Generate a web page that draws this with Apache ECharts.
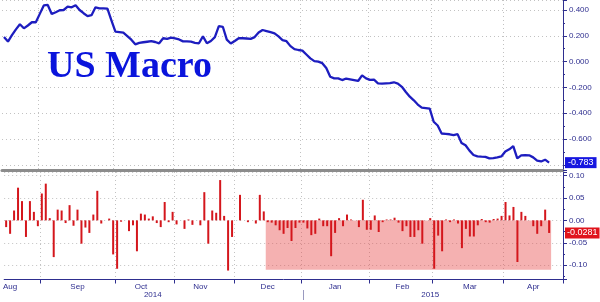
<!DOCTYPE html>
<html><head><meta charset="utf-8">
<script src="https://cdn.jsdelivr.net/npm/echarts@6/dist/echarts.min.js"></script>
<style>html,body{margin:0;padding:0;background:#fff}#c{width:600px;height:302px}</style>
</head><body><div id="c"></div>
<script>
// US Macro surprise index (top panel), one value per slot
const macroIndex = [
 0.19,0.155,0.205,0.25,0.29,0.258,0.28,0.305,0.305,0.37,
 0.435,0.439,0.369,0.383,0.398,0.40,0.426,0.421,0.437,0.40,
 0.375,0.353,0.36,0.421,0.413,0.412,0.41,0.32,0.232,0.228,
 0.224,0.198,0.17,0.134,0.145,0.15,0.154,0.158,0.152,0.142,
 0.181,0.176,0.186,0.18,0.172,0.157,0.157,0.155,0.146,0.142,
 0.196,0.142,0.16,0.19,0.275,0.27,0.17,0.14,0.16,0.181,
 0.181,0.179,0.176,0.19,0.225,0.245,0.237,0.228,0.219,0.195,
 0.167,0.158,0.12,0.097,0.09,0.085,0.055,0.025,0.004,0.0,
 -0.012,-0.05,-0.117,-0.13,-0.13,-0.143,-0.131,-0.137,-0.143,-0.15,
 -0.106,-0.13,-0.142,-0.14,-0.168,-0.17,-0.168,-0.166,-0.16,-0.17,
 -0.195,-0.235,-0.272,-0.30,-0.333,-0.357,-0.36,-0.365,-0.466,-0.495,
 -0.557,-0.56,-0.563,-0.569,-0.562,-0.63,-0.648,-0.69,-0.724,-0.735,
 -0.737,-0.738,-0.75,-0.748,-0.742,-0.735,-0.697,-0.68,-0.655,-0.75,
 -0.727,-0.724,-0.726,-0.742,-0.767,-0.774,-0.76,-0.783
];
// daily change (bottom panel)
const macroChange = [
 -0.015,-0.030,0.022,0.073,0.043,-0.037,0.043,0.019,-0.013,0.060,
 0.082,0.005,-0.082,0.024,0.022,-0.006,0.034,-0.012,0.024,-0.052,
 -0.016,-0.028,0.013,0.066,-0.007,0.000,0.004,-0.076,-0.108,-0.003,
 0.000,-0.024,-0.011,-0.069,0.015,0.013,0.004,0.009,-0.006,-0.015,
 0.041,-0.004,0.019,-0.009,0.000,-0.019,0.002,-0.010,0.000,-0.011,
 0.063,-0.052,0.022,0.017,0.090,0.010,-0.112,-0.037,0.000,0.057,
 0.000,-0.004,0.000,-0.007,0.057,0.020,-0.004,-0.005,-0.011,-0.022,
 -0.030,-0.017,-0.046,-0.017,-0.005,-0.005,-0.018,-0.033,-0.030,0.004,
 -0.013,-0.013,-0.080,-0.028,0.005,-0.013,0.013,0.002,0.000,-0.015,
 0.046,-0.021,-0.021,0.011,-0.026,-0.004,0.002,0.002,0.006,-0.005,
 -0.024,-0.013,-0.037,-0.037,-0.022,-0.052,0.000,0.005,-0.108,-0.034,
 -0.069,0.002,-0.004,0.002,-0.007,-0.062,-0.019,-0.036,-0.036,-0.011,
 0.003,-0.004,-0.005,0.003,0.004,0.010,0.041,0.011,0.030,-0.093,
 0.019,0.010,0.000,-0.013,-0.030,-0.013,0.024,-0.0281
];
const slotCount = 141;
const monthNames = ['Aug','Sep','Oct','Nov','Dec','Jan','Feb','Mar','Apr'];
const monthLabelIdx = [1,18,34,49,66,83,100,117,133];
const monthStartIdx = [9,28,43,58,75,92,108,126];
const yearNames = ['2014','2015'];
const yearLabelIdx = [37,107];
const yearStartIdx = [75];
const topRange = [-0.84, 0.4775];
const bottomRange = [-0.132, 0.108];
const shadeFrom = 66, shadeTo = 137, shadeLow = -0.11;
const title = 'US Macro';

const slots = [];
for (let i = 0; i < slotCount; i++) slots.push('s' + i);
const navy = '#2e2e8f';
const gridLine = {show: true, lineStyle: {color: '#c2c2c2', type: [1, 3], width: 1}};
const vSplit = {show: true, interval: (i) => monthStartIdx.includes(i), lineStyle: {color: '#c2c2c2', type: [1, 3], width: 1}};
const lblFont = {color: navy, fontSize: 8, fontFamily: 'Liberation Sans'};
const lastLine = macroIndex[macroIndex.length - 1];
const lastBar = macroChange[macroChange.length - 1];

const chart = echarts.init(document.getElementById('c'));
chart.setOption({
  animation: false,
  backgroundColor: '#fff',
  title: {text: title, left: 47, top: 48, padding: 0,
    textStyle: {fontFamily: 'Liberation Serif', fontWeight: 'bold', fontSize: 38, color: '#0a14dc'}},
  grid: [
    {left: 2, right: 37, top: 0, height: 170},
    {left: 2, right: 37, top: 172, height: 107.5}
  ],
  xAxis: [
    {type: 'category', gridIndex: 0, data: slots, boundaryGap: true,
     axisLine: {show: true, onZero: false, lineStyle: {color: '#8c8c8c', width: 3}},
     axisTick: {show: false}, axisLabel: {show: false}, splitLine: vSplit},
    // bar axis: every-slot (hidden) ticks so the shaded band snaps to slot edges
    {type: 'category', gridIndex: 1, data: slots, boundaryGap: true,
     axisLine: {show: true, onZero: false, lineStyle: {color: navy, width: 1}},
     axisTick: {show: false, interval: 0},
     axisLabel: Object.assign({show: true, interval: (i) => monthLabelIdx.includes(i), margin: 3,
       formatter: (v, i) => monthNames[monthLabelIdx.indexOf(i)] || ''}, lblFont),
     splitLine: vSplit},
    {type: 'category', gridIndex: 1, data: slots, boundaryGap: true, position: 'bottom', offset: 10.5,
     axisLine: {show: false, onZero: false},
     axisTick: {show: true, alignWithLabel: true, interval: (i) => yearStartIdx.includes(i), length: 10, lineStyle: {color: '#9a9ac0'}},
     axisLabel: Object.assign({show: true, interval: (i) => yearLabelIdx.includes(i), margin: 1,
       formatter: (v, i) => yearNames[yearLabelIdx.indexOf(i)] || ''}, lblFont),
     splitLine: {show: false}},
    // month boundary ticks
    {type: 'category', gridIndex: 1, data: slots, boundaryGap: true, position: 'bottom', offset: 0,
     axisLine: {show: false, onZero: false},
     axisTick: {show: true, interval: (i) => monthStartIdx.includes(i), length: 4, lineStyle: {color: navy}},
     axisLabel: {show: false}, splitLine: {show: false}}
  ],
  yAxis: [
    {type: 'value', gridIndex: 0, position: 'right', min: topRange[0], max: topRange[1], splitNumber: 6,
     axisLine: {show: true, onZero: false, lineStyle: {color: navy}},
     axisTick: {show: true, length: 4, lineStyle: {color: navy}},
     minorTick: {show: true, splitNumber: 2, length: 2, lineStyle: {color: navy}},
     axisLabel: Object.assign({showMinLabel: false, showMaxLabel: false, margin: 6, formatter: (v) => v.toFixed(3)}, lblFont),
     splitLine: gridLine,
     axisPointer: {show: true, type: 'line', status: 'show', value: lastLine, triggerTooltip: false,
       lineStyle: {opacity: 0},
       label: {show: true, margin: 2, formatter: (p) => Number(p.value).toFixed(3), backgroundColor: '#1616e0',
         color: '#fff', padding: [1, 3, 1, 3], fontSize: 9, fontFamily: 'Liberation Sans', borderRadius: 0}}},
    {type: 'value', gridIndex: 1, position: 'right', min: bottomRange[0], max: bottomRange[1], splitNumber: 5,
     axisLine: {show: true, onZero: false, lineStyle: {color: navy}},
     axisTick: {show: true, length: 4, lineStyle: {color: navy}},
     minorTick: {show: true, splitNumber: 2, length: 2, lineStyle: {color: navy}},
     axisLabel: Object.assign({showMinLabel: false, showMaxLabel: false, margin: 6, formatter: (v) => v.toFixed(2)}, lblFont),
     splitLine: gridLine,
     axisPointer: {show: true, type: 'line', status: 'show', value: lastBar, triggerTooltip: false,
       lineStyle: {opacity: 0},
       label: {show: true, margin: 2, formatter: (p) => Number(p.value).toFixed(4), backgroundColor: '#e0141c',
         color: '#fff', padding: [1, 2, 1, 2], fontSize: 9, fontFamily: 'Liberation Sans', borderRadius: 0}}}
  ],
  series: [
    {type: 'line', xAxisIndex: 0, yAxisIndex: 0, data: macroIndex, showSymbol: false, symbol: 'none',
     lineStyle: {color: '#1d1dbf', width: 2.3}, z: 3},
    {type: 'bar', xAxisIndex: 1, yAxisIndex: 1, data: macroChange, barWidth: 2,
     itemStyle: {color: '#d4161c'}, z: 3,
     markArea: {silent: true, itemStyle: {color: 'rgba(232,70,70,0.42)'},
       data: [[{coord: [shadeFrom, 0]}, {coord: [shadeTo, shadeLow]}]]}}
  ]
});
</script></body></html>
